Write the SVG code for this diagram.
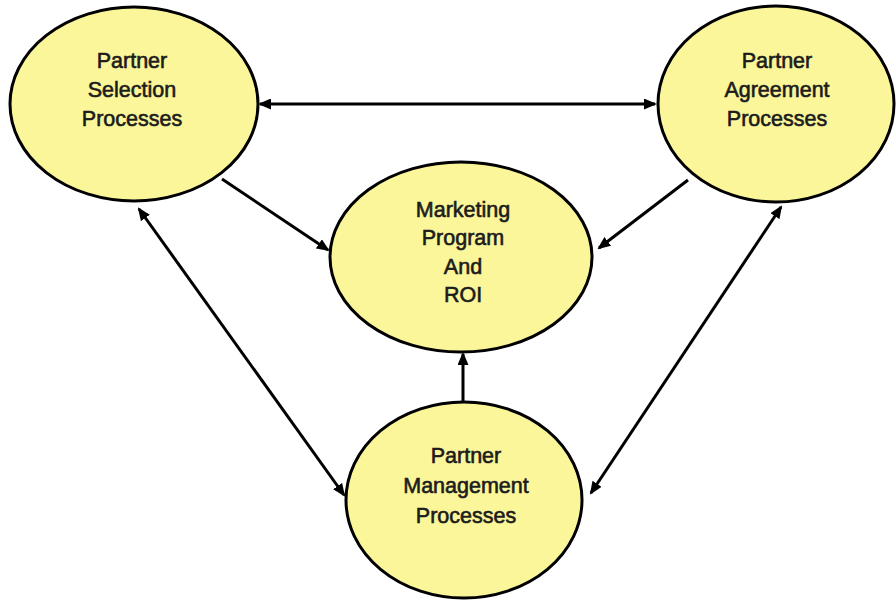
<svg xmlns="http://www.w3.org/2000/svg" width="896" height="602" viewBox="0 0 896 602">
  <style>
    .node ellipse { fill: #FBF69A; stroke: #000; stroke-width: 3; }
    .node text { font-family: "Liberation Sans", Arial, sans-serif; font-size: 21.5px; fill: #1c1c1c; stroke: #1c1c1c; stroke-width: 0.6; text-anchor: middle; }
    .edge { stroke: #000; stroke-width: 3; fill: none; }
  </style>
  <defs>
    <marker id="arrow" viewBox="0 0 13 11" refX="11" refY="5.5" markerWidth="13" markerHeight="11" markerUnits="userSpaceOnUse" orient="auto-start-reverse">
      <path d="M0,0 L13,5.5 L0,11 z" fill="#000"/>
    </marker>
  </defs>
  <rect width="896" height="602" fill="#fff"/>

  <g id="partner-selection" class="node">
    <ellipse cx="134" cy="104" rx="124" ry="97"/>
    <text x="132" y="68">Partner</text>
    <text x="132" y="97">Selection</text>
    <text x="132" y="126">Processes</text>
  </g>

  <g id="partner-agreement" class="node">
    <ellipse cx="776" cy="104" rx="118" ry="98"/>
    <text x="777" y="68">Partner</text>
    <text x="777" y="97">Agreement</text>
    <text x="777" y="126">Processes</text>
  </g>

  <g id="marketing-program" class="node">
    <ellipse cx="461" cy="257" rx="131" ry="95"/>
    <text x="463" y="217">Marketing</text>
    <text x="463" y="245">Program</text>
    <text x="463" y="274">And</text>
    <text x="463" y="302">ROI</text>
  </g>

  <g id="partner-management" class="node">
    <ellipse cx="464" cy="500" rx="118" ry="98"/>
    <text x="466" y="463">Partner</text>
    <text x="466" y="493">Management</text>
    <text x="466" y="523">Processes</text>
  </g>

  <g id="connectors">
    <line class="edge" x1="260" y1="104" x2="655" y2="104" marker-start="url(#arrow)" marker-end="url(#arrow)"/>
    <line class="edge" x1="222" y1="179" x2="328" y2="250" marker-end="url(#arrow)"/>
    <line class="edge" x1="688" y1="180" x2="599" y2="248" marker-end="url(#arrow)"/>
    <line class="edge" x1="463" y1="402" x2="463" y2="354" marker-end="url(#arrow)"/>
    <line class="edge" x1="139" y1="209" x2="344" y2="495" marker-start="url(#arrow)" marker-end="url(#arrow)"/>
    <line class="edge" x1="781" y1="207" x2="591" y2="493" marker-start="url(#arrow)" marker-end="url(#arrow)"/>
  </g>
</svg>
